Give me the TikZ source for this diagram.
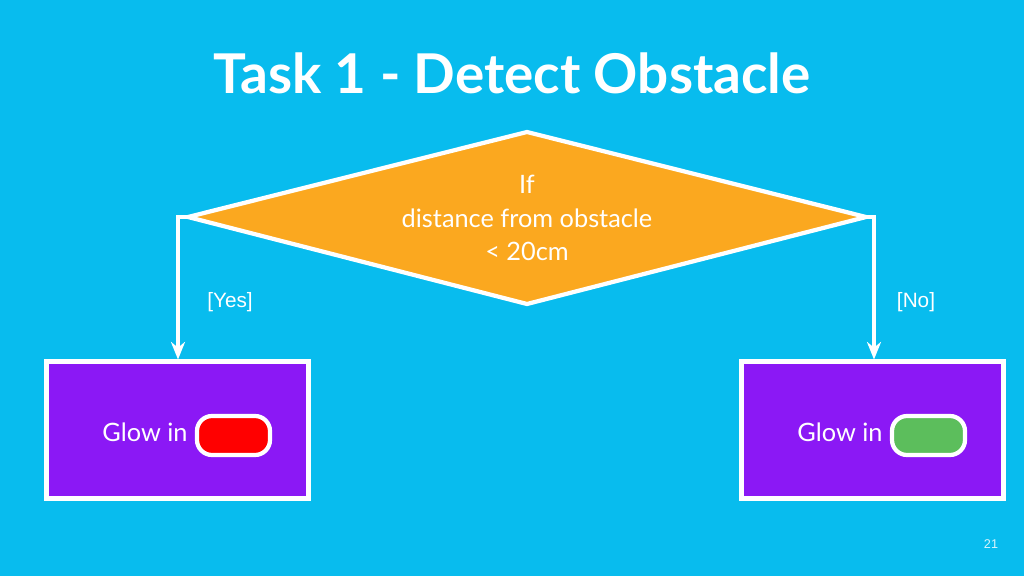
\documentclass[tikz,border=0pt]{standalone}
\usepackage{fontspec}
\setmainfont{Lato}
\newfontfamily\arialf{Liberation Sans}
\usetikzlibrary{arrows.meta}
\definecolor{bg}{HTML}{08BCEE}
\definecolor{dia}{HTML}{FBA81F}
\definecolor{box}{HTML}{8B18F5}
\definecolor{grn}{HTML}{5CBE5C}
\tikzset{conn/.style={white,line width=1.2pt,-{Stealth[length=5pt,width=4pt]}},
 pbox/.style={fill=box,draw=white,line width=1.4pt},
 pill/.style={draw=white,line width=1.2pt,rounded corners=0.15cm},
 lbl/.style={white,font=\fontsize{6.6}{7.5}\selectfont}}
\begin{document}
\begin{tikzpicture}[x=0.01cm,y=-0.01cm]
\fill[bg] (0,0) rectangle (1024,576);
\useasboundingbox (0,0) rectangle (1024,576);
\node[white,font=\fontsize{15.6}{18}\selectfont\bfseries] (title) at (512,73) {Task 1 - Detect Obstacle};
\draw[fill=dia,draw=white,line width=1.2pt] (527,132) coordinate (dt) -- (866,217) coordinate (dr) -- (527,304) -- (188,217) coordinate (dl) -- cycle;
\node[lbl,align=center,font=\fontsize{7.2}{9.6}\selectfont] (q) at (527,218) {If\\distance from obstacle\\< 20cm};
\node[pbox,minimum width=2.61cm,minimum height=1.36cm] (b1) at (177.5,430) {};
\node[pbox,minimum width=2.61cm,minimum height=1.36cm] (b2) at (872.5,430) {};
\draw[conn] (dl) -- (178,217) -- (b1.north-|178,0);
\draw[conn] (dr) -- (874,217) -- (b2.north-|874,0);
\node[lbl,font=\arialf\fontsize{5.9}{7}\selectfont] (yes) at (230,302) {[Yes]};
\node[lbl,font=\arialf\fontsize{5.9}{7}\selectfont] (no) at (916,302) {[No]};
\node[lbl,font=\fontsize{7.2}{8}\selectfont] (g1) at (145,432) {Glow in};
\node[lbl,font=\fontsize{7.2}{8}\selectfont] (g2) at (840,432) {Glow in};
\draw[pill,fill=red] (197,416) rectangle (270,455);
\draw[pill,fill=grn] (892,416) rectangle (965,455);
\node[font=\arialf\fontsize{3.6}{4}\selectfont,white!85!bg] (pg) at (991,544) {21};
\end{tikzpicture}
\end{document}
